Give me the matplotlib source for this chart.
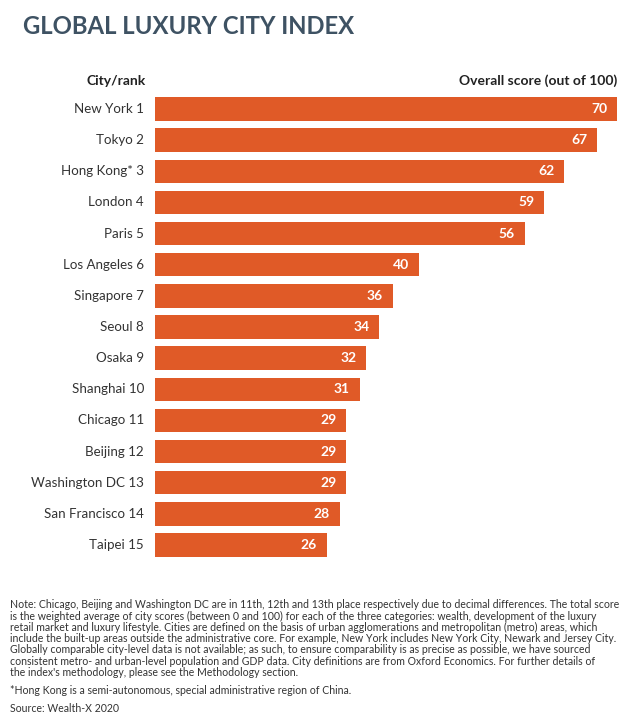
import matplotlib
matplotlib.use('Agg')

import matplotlib.pyplot as plt

# Данные
cities = ['New York 1', 'Tokyo 2', 'Hong Kong* 3', 'London 4', 'Paris 5',
          'Los Angeles 6', 'Singapore 7', 'Seoul 8', 'Osaka 9', 'Shanghai 10',
          'Chicago 11', 'Beijing 12', 'Washington DC 13', 'San Francisco 14',
          'Taipei 15']
scores = [70, 67, 62, 59, 56, 40, 36, 34, 32, 31, 29, 29, 29, 28, 26]

note_lines = [
    "Note: Chicago, Beijing and Washington DC are in 11th, 12th and 13th place respectively due to decimal differences. The total score",
    "is the weighted average of city scores (between 0 and 100) for each of the three categories: wealth, development of the luxury",
    "retail market and luxury lifestyle. Cities are defined on the basis of urban agglomerations and metropolitan (metro) areas, which",
    "include the built-up areas outside the administrative core. For example, New York includes New York City, Newark and Jersey City.",
    "Globally comparable city-level data is not available; as such, to ensure comparability is as precise as possible, we have sourced",
    "consistent metro- and urban-level population and GDP data. City definitions are from Oxford Economics. For further details of",
    "the index's methodology, please see the Methodology section.",
]
footnote = "*Hong Kong is a semi-autonomous, special administrative region of China."
source = "Source: Wealth-X 2020"

BAR = '#E05A27'
TXT = '#333333'
TITLE = '#3E5263'
plt.rcParams['font.family'] = ['Lato', 'DejaVu Sans']

W, H = 635, 726
fig = plt.figure(figsize=(W / 100, H / 100), dpi=100)

# ось: 0 -> x=155, 70 -> x=617; центры полос 109..545
x0, x1 = 155, 617
yc0, yc1 = 109, 545
step = (yc1 - yc0) / (len(cities) - 1)
top = yc0 - step / 2
bot = yc1 + step / 2
ax = fig.add_axes([x0 / W, 1 - bot / H, (x1 - x0) / W, (bot - top) / H])
ax.set_xlim(0, 70)
ax.set_ylim(len(cities) - 0.5, -0.5)
ax.axis('off')

pos = list(range(len(cities)))
bars = ax.barh(pos, scores, height=0.75, color=BAR, clip_on=False)
for p, v, name in zip(pos, scores, cities):
    ax.annotate(str(v), xy=(v, p), xytext=(-7, 0), textcoords='offset points',
                ha='right', va='center', color='white', fontsize=10,
                fontweight='bold')
    ax.annotate(name, xy=(0, p), xytext=(-8, 0), textcoords='offset points',
                ha='right', va='center', color=TXT, fontsize=9.6)

fig.text(23 / W, 1 - 27 / H, 'GLOBAL LUXURY CITY INDEX', ha='left', va='center',
         fontsize=17.2, color=TITLE, fontweight='bold')
fig.text(146 / W, 1 - 81 / H, 'City/rank', ha='right', va='center',
         fontsize=10, color='#222222', fontweight='bold')
fig.text(617 / W, 1 - 81 / H, 'Overall score (out of 100)', ha='right',
         va='center', fontsize=10, color='#222222', fontweight='bold')

y = 605
for line in note_lines:
    fig.text(10 / W, 1 - y / H, line, ha='left', va='center', fontsize=7.6,
             color=TXT)
    y += 11.2
fig.text(10 / W, 1 - 691 / H, footnote, ha='left', va='center', fontsize=7.6,
         color=TXT)
fig.text(10 / W, 1 - 709 / H, source, ha='left', va='center', fontsize=7.6,
         color=TXT)

fig.savefig('out.png', dpi=100)
